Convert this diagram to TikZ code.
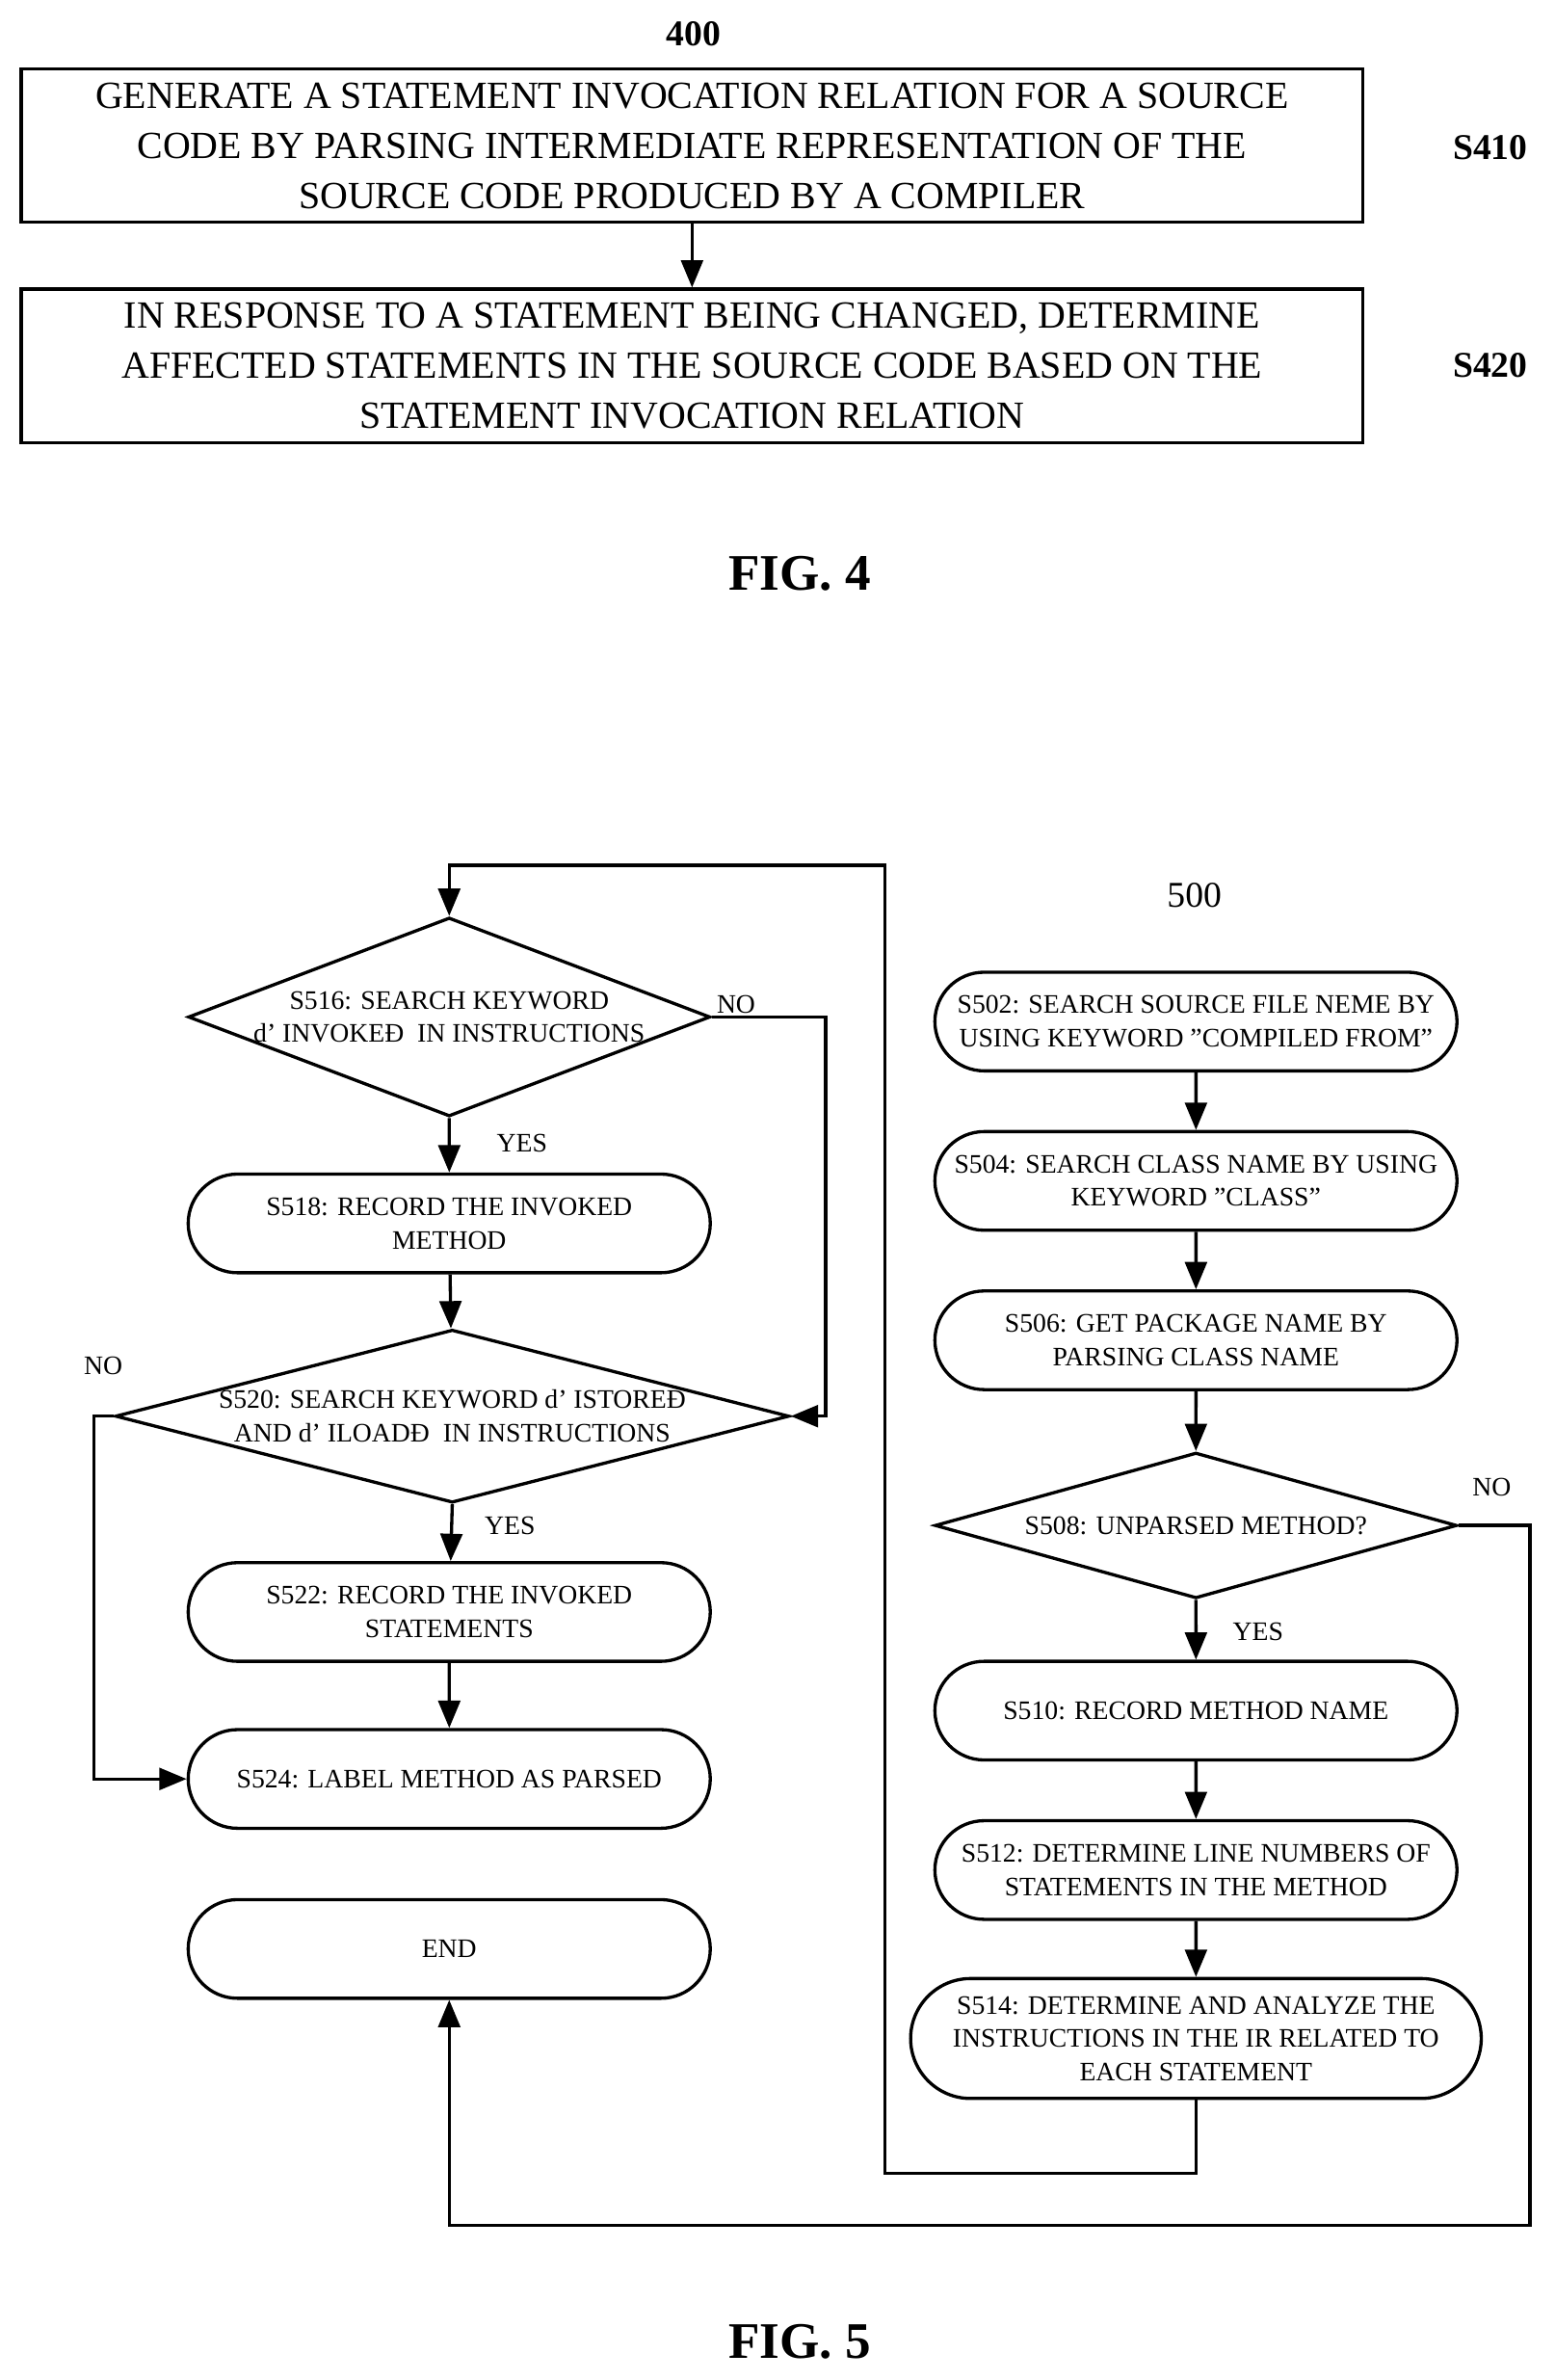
\documentclass[tikz,border=0pt]{standalone}
\usepackage{fontspec}
\setmainfont{Liberation Serif}
\usetikzlibrary{shapes.geometric,shapes.misc,arrows.meta}
\tikzset{
  line/.style={line width=1.5pt},
  arr/.style={line, -{Triangle[length=0.45cm,width=0.36cm]}},
  box/.style={line, draw, rectangle, minimum width=884*0.025cm, minimum height=101*0.025cm, inner sep=0pt, align=center, font=\fontsize{18}{23.5}\selectfont},
  pill/.style={line, draw, rounded rectangle, minimum width=344*0.025cm, minimum height=65*0.025cm, inner sep=0pt, align=center, font=\fontsize{12.5}{15.6}\selectfont},
  dia/.style={line, draw, diamond, inner sep=0pt},
  txt/.style={align=center, font=\fontsize{12.5}{15.6}\selectfont},
  lab/.style={font=\fontsize{12.5}{15}\selectfont},
  steplab/.style={font=\bfseries\fontsize{17}{20}\selectfont},
  fig/.style={font=\bfseries\fontsize{24}{28}\selectfont}
}
\begin{document}
\begin{tikzpicture}[x=0.025cm,y=-0.025cm]
      \useasboundingbox (0,0) rectangle (1024,1568);
      % FIG. 4
      \node[steplab] (n400) at (457,22) {400};
      \node[box] (s410) at (456,96) {GENERATE A STATEMENT INVOCATION RELATION FOR A SOURCE\\CODE BY PARSING INTERMEDIATE REPRESENTATION OF THE\\SOURCE CODE PRODUCED BY A COMPILER};
      \node[box] (s420) at (456,241) {IN RESPONSE TO A STATEMENT BEING CHANGED, DETERMINE\\AFFECTED STATEMENTS IN THE SOURCE CODE BASED ON THE\\STATEMENT INVOCATION RELATION};
      \node[steplab] (l410) at (982,97) {S410};
      \node[steplab] (l420) at (982,241) {S420};
      \draw[arr] (s410) -- (s420);
      \node[fig] (fig4) at (527,378) {FIG. 4};
      % FIG. 5, right column
      \node[font=\fontsize{17}{20}\selectfont] (n500) at (787,590) {500};
      \node[pill] (s502) at (788,673) {S502: SEARCH SOURCE FILE NEME BY\\USING KEYWORD "COMPILED FROM"};
      \node[pill] (s504) at (788,778) {S504: SEARCH CLASS NAME BY USING\\KEYWORD "CLASS"};
      \node[pill] (s506) at (788,883) {S506: GET PACKAGE NAME BY\\PARSING CLASS NAME};
      \node[dia, minimum width=344*0.025cm, minimum height=96*0.025cm] (s508) at (788,1005) {};
      \node[txt] at (s508) {S508: UNPARSED METHOD?};
      \node[pill] (s510) at (788,1127) {S510: RECORD METHOD NAME};
      \node[pill] (s512) at (788,1232) {S512: DETERMINE LINE NUMBERS OF\\STATEMENTS IN THE METHOD};
      \node[pill, minimum width=376*0.025cm, minimum height=79*0.025cm] (s514) at (788,1343) {S514: DETERMINE AND ANALYZE THE\\INSTRUCTIONS IN THE IR RELATED TO\\EACH STATEMENT};
      % left column
      \node[dia, minimum width=344*0.025cm, minimum height=131*0.025cm] (s516) at (296,670) {};
      \node[txt] at (s516) {S516: SEARCH KEYWORD\\d’ INVOKEĐ\ \ IN INSTRUCTIONS};
      \node[pill] (s518) at (296,806) {S518: RECORD THE INVOKED\\METHOD};
      \node[dia, minimum width=444*0.025cm, minimum height=114*0.025cm] (s520) at (298,933) {};
      \node[txt] at (s520) {S520: SEARCH KEYWORD d’ ISTOREĐ\\AND d’ ILOADĐ\ \ IN INSTRUCTIONS};
      \node[pill] (s522) at (296,1062) {S522: RECORD THE INVOKED\\STATEMENTS};
      \node[pill] (s524) at (296,1172) {S524: LABEL METHOD AS PARSED};
      \node[pill] (end) at (296,1284) {END};
      % connectors
      \draw[arr] (s502) -- (s504);
      \draw[arr] (s504) -- (s506);
      \draw[arr] (s506) -- (s508);
      \draw[arr] (s508) -- (s510);
      \draw[arr] (s510) -- (s512);
      \draw[arr] (s512) -- (s514);
      \draw[arr] (s516) -- (s518);
      \draw[arr] (s518) -- (s520);
      \draw[arr] (s520.south) -- (s522);
      \draw[arr] (s522) -- (s524);
      \draw[arr] (s516.east) -- (544,670) -- (544,933) -- (s520.east);
      \draw[arr] (s520.west) -- (62,933) -- (62,1172) -- (s524.west);
      \draw[arr] (s514.south) -- (788,1432) -- (583,1432) -- (583,570) -- (296,570) -- (s516.north);
      \draw[arr] (s508.east) -- (1008,1005) -- (1008,1466) -- (296,1466) -- (end.south);
      \node[lab] (no516) at (485,662) {NO};
      \node[lab] (yes516) at (344,753) {YES};
      \node[lab] (no520) at (68,900) {NO};
      \node[lab] (yes520) at (336,1005) {YES};
      \node[lab] (no508) at (983,980) {NO};
      \node[lab] (yes508) at (829,1075) {YES};
      \node[fig] (fig5) at (527,1543) {FIG. 5};
\end{tikzpicture}
\end{document}
